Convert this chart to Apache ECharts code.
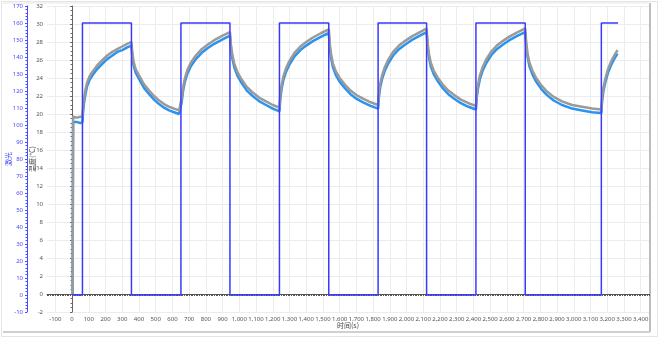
<!DOCTYPE html>
<html>
<head>
<meta charset="utf-8">
<script src="https://cdn.jsdelivr.net/npm/echarts@6/dist/echarts.min.js"></script>
<style>
html,body{margin:0;padding:0;background:#fff;}
#chart{width:661px;height:340px;}
</style>
</head>
<body>
<div id="chart"></div>
<script>
// ---- data ----
var laserTime  = [3, 62, 62, 355, 355, 651, 651, 944, 944, 1240, 1240, 1535, 1535, 1830, 1830, 2120, 2120, 2415, 2415, 2710, 2710, 3165, 3165, 3265];
var laserValue = [0, 0, 160, 160, 0, 0, 160, 160, 0, 0, 160, 160, 0, 0, 160, 160, 0, 0, 160, 160, 0, 0, 160, 160];

var tempTime = [3, 6, 10, 30, 50, 62,
  66, 72, 80, 90, 105, 122, 150, 182, 210, 241, 270, 300, 330, 355,
  360, 368, 380, 400, 430, 461, 490, 520, 550, 580, 610, 640, 651,
  656, 664, 675, 690, 710, 740, 775, 810, 850, 900, 944,
  950, 958, 970, 990, 1015, 1045, 1080, 1120, 1160, 1200, 1240,
  1245, 1253, 1264, 1280, 1300, 1330, 1365, 1400, 1440, 1490, 1535,
  1541, 1549, 1560, 1578, 1600, 1630, 1665, 1700, 1740, 1785, 1830,
  1835, 1843, 1854, 1870, 1890, 1920, 1955, 1990, 2030, 2080, 2120,
  2126, 2134, 2145, 2163, 2185, 2215, 2250, 2285, 2325, 2370, 2415,
  2420, 2428, 2439, 2455, 2475, 2505, 2540, 2575, 2615, 2665, 2710,
  2716, 2724, 2735, 2753, 2775, 2805, 2840, 2880, 2930, 2990, 3050, 3110, 3165,
  3170, 3178, 3190, 3205, 3225, 3245, 3262];

var tempGray = [0, 19.7, 19.7, 19.6, 19.7, 19.7,
  20.8, 21.8, 22.7, 23.5, 24.2, 24.7, 25.4, 26.0, 26.5, 26.9, 27.2, 27.5, 27.8, 28.0,
  26.8, 25.8, 25.0, 24.3, 23.3, 22.6, 22.0, 21.5, 21.1, 20.8, 20.6, 20.4, 20.4,
  21.8, 23.0, 24.0, 24.9, 25.7, 26.5, 27.2, 27.7, 28.2, 28.7, 29.1,
  27.7, 26.6, 25.6, 24.6, 23.8, 23.0, 22.4, 21.8, 21.4, 21.0, 20.7,
  22.0, 23.2, 24.2, 25.1, 25.9, 26.8, 27.5, 28.0, 28.5, 29.0, 29.4,
  27.8, 26.6, 25.6, 24.7, 24.0, 23.3, 22.6, 22.1, 21.7, 21.3, 21.0,
  22.3, 23.4, 24.3, 25.2, 26.0, 26.9, 27.6, 28.1, 28.6, 29.1, 29.5,
  27.9, 26.7, 25.7, 24.8, 24.1, 23.3, 22.6, 22.1, 21.6, 21.2, 20.9,
  22.2, 23.3, 24.3, 25.2, 26.0, 26.9, 27.6, 28.1, 28.6, 29.1, 29.5,
  27.9, 26.7, 25.7, 24.8, 24.0, 23.2, 22.5, 21.9, 21.4, 21.0, 20.8, 20.6, 20.5,
  21.9, 23.0, 24.0, 25.0, 25.9, 26.6, 27.1];

var tempBlue = [0, 19.1, 19.0, 19.1, 19.0, 19.1,
  20.3, 21.3, 22.2, 23.1, 23.8, 24.3, 25.0, 25.6, 26.1, 26.5, 26.9, 27.1, 27.4, 27.6,
  26.4, 25.4, 24.6, 23.9, 22.9, 22.2, 21.6, 21.1, 20.7, 20.4, 20.2, 20.0, 20.0,
  21.4, 22.6, 23.6, 24.5, 25.3, 26.1, 26.8, 27.3, 27.8, 28.3, 28.7,
  27.3, 26.2, 25.2, 24.2, 23.4, 22.6, 22.0, 21.4, 21.0, 20.6, 20.3,
  21.6, 22.8, 23.8, 24.7, 25.5, 26.4, 27.1, 27.6, 28.1, 28.6, 29.0,
  27.4, 26.2, 25.2, 24.3, 23.6, 22.9, 22.2, 21.7, 21.3, 20.9, 20.6,
  21.9, 23.0, 23.9, 24.8, 25.6, 26.5, 27.2, 27.7, 28.2, 28.7, 29.1,
  27.5, 26.3, 25.3, 24.4, 23.7, 22.9, 22.2, 21.7, 21.2, 20.8, 20.5,
  21.8, 22.9, 23.9, 24.8, 25.6, 26.5, 27.2, 27.7, 28.2, 28.7, 29.1,
  27.5, 26.3, 25.3, 24.4, 23.6, 22.8, 22.1, 21.5, 21.0, 20.6, 20.4, 20.2, 20.1,
  21.5, 22.6, 23.6, 24.6, 25.5, 26.2, 26.7];

var xLabelStep = 100;

function pairs(xs, ys) { return xs.map(function (x, i) { return [x, ys[i]]; }); }

var chart = echarts.init(document.getElementById('chart'));
var labelFont = { fontSize: 6, fontFamily: 'Noto Sans, Noto Sans CJK SC, sans-serif' };

chart.setOption({
  animation: false,
  backgroundColor: '#ffffff',
  graphic: [
    { type: 'rect', shape: { x: 1.5, y: 1.5, width: 656, height: 335 }, style: { fill: 'none', stroke: '#e4e4e4', lineWidth: 1 }, silent: true, z: -10 },
    { type: 'line', shape: { x1: 650, y1: 3, x2: 650, y2: 332 }, style: { stroke: '#bdbdbd', lineWidth: 2 }, silent: true, z: -10 },
    { type: 'line', shape: { x1: 3, y1: 332, x2: 650, y2: 332 }, style: { stroke: '#d0d0d0', lineWidth: 2 }, silent: true, z: -10 },
    { type: 'line', shape: { x1: 3, y1: 3, x2: 650, y2: 3 }, style: { stroke: '#e6e6e6', lineWidth: 1 }, silent: true, z: -10 }
  ],
  grid: { left: 47, right: 12, top: 6, bottom: 28, containLabel: false, outerBoundsMode: 'none' },
  xAxis: {
    type: 'value', min: -150, max: 3450, interval: 50,
    name: '时间(s)', nameLocation: 'middle', nameGap: 10, nameMoveOverlap: false,
    nameTextStyle: { fontSize: 7, color: '#444', fontFamily: 'Noto Sans CJK SC, sans-serif' },
    axisLine: { show: true, lineStyle: { color: '#555', width: 1 } },
    axisTick: { show: true, length: 2, lineStyle: { color: '#555' } },
    minorTick: { show: true, splitNumber: 5, length: 2, lineStyle: { color: '#555' } },
    axisLabel: Object.assign({ color: '#555', margin: 4, showMinLabel: false, showMaxLabel: false, hideOverlap: false,
      formatter: function (v) { return (v % xLabelStep === 0) ? v.toLocaleString('en-US') : ''; } }, labelFont),
    splitLine: { show: true, lineStyle: { color: ['rgba(0,0,0,0)', '#ececec'], width: 1 } }
  },
  yAxis: [
    {
      type: 'value', min: -2, max: 32, interval: 2, position: 'left', offset: 0,
      name: '温度(°C)', nameLocation: 'middle', nameGap: 11, nameRotate: 90, nameMoveOverlap: false,
      nameTextStyle: { fontSize: 7, color: '#444', fontFamily: 'Noto Sans CJK SC, sans-serif' },
      axisLine: { show: true, lineStyle: { color: '#666' } },
      axisTick: { show: true, length: 2, lineStyle: { color: '#666' } },
      minorTick: { show: true, splitNumber: 4, length: 1.5, lineStyle: { color: '#666' } },
      axisLabel: Object.assign({ color: '#555', margin: 4 }, labelFont),
      splitLine: { show: true, lineStyle: { color: '#ececec' } }
    },
    {
      type: 'value', min: -10, max: 170, interval: 10, position: 'left', offset: 20,
      name: '激光', nameLocation: 'middle', nameGap: 15, nameRotate: 90, nameMoveOverlap: false,
      nameTextStyle: { fontSize: 7, color: '#3b3bff', fontFamily: 'Noto Sans CJK SC, sans-serif' },
      axisLine: { show: true, lineStyle: { color: '#4a4aff' } },
      axisTick: { show: true, length: 2, lineStyle: { color: '#4a4aff' } },
      minorTick: { show: true, splitNumber: 5, length: 1.5, lineStyle: { color: '#4a4aff' } },
      axisLabel: Object.assign({ color: '#4a4aff', margin: 4 }, labelFont),
      splitLine: { show: false }
    }
  ],
  series: [
    {
      name: 'tempBlue', type: 'line', yAxisIndex: 0, showSymbol: false, smooth: false,
      data: pairs(tempTime, tempBlue),
      lineStyle: { color: '#2a93f0', width: 2.5 }, z: 2
    },
    {
      name: 'tempGray', type: 'line', yAxisIndex: 0, showSymbol: false, smooth: false,
      data: pairs(tempTime, tempGray),
      lineStyle: { color: '#9a9a9a', width: 2.5 }, z: 3
    },
    {
      name: 'laser', type: 'line', yAxisIndex: 1, showSymbol: false,
      data: pairs(laserTime, laserValue),
      lineStyle: { color: '#3a3aff', width: 1.5 }, z: 4
    }
  ]
});
</script>
</body>
</html>
